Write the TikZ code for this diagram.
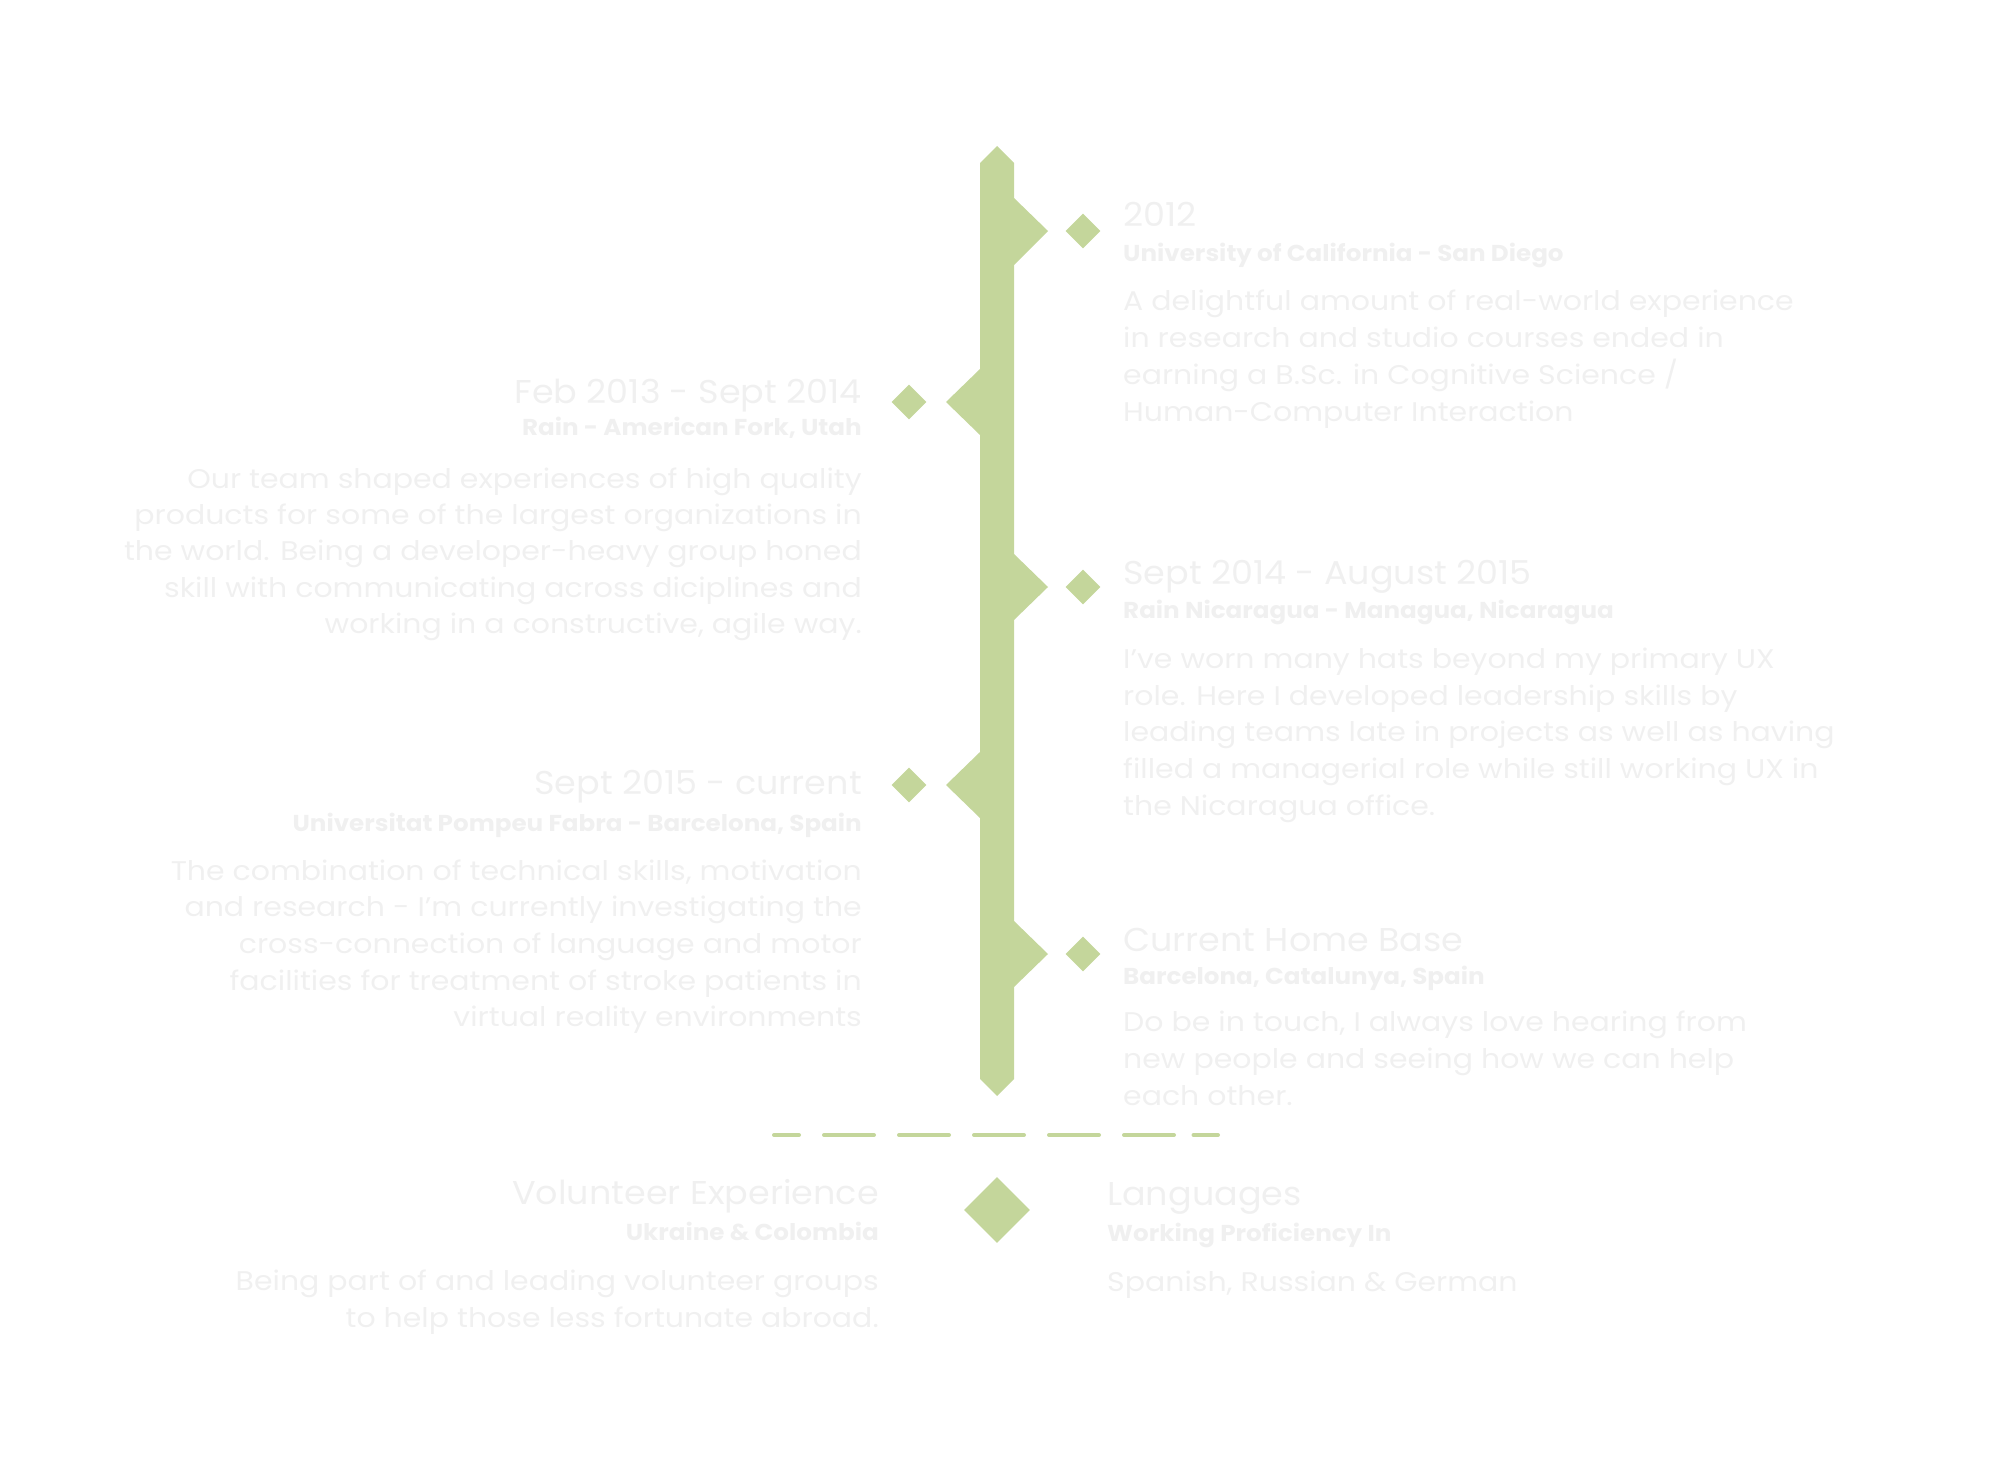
\documentclass[tikz,border=0pt]{standalone}
\usepackage{fontspec}
\setmainfont{Poppins}
\newfontfamily\ttlfont{Poppins}[FakeStretch=1.06]
\newfontfamily\subfont{Poppins}[FakeStretch=1.07]
\newfontfamily\bodyfont{Poppins}[FakeStretch=1.11]
\usetikzlibrary{shapes.geometric}
\definecolor{tlgreen}{RGB}{196,214,155}
\definecolor{tltext}{RGB}{240,240,240}
\tikzset{
  ttl/.style={font=\ttlfont\fontsize{33}{40}\selectfont, text=tltext, inner sep=0pt},
  subttl/.style={font=\subfont\fontsize{23}{30}\selectfont\bfseries, text=tltext, inner sep=0pt},
  bodytxt/.style={font=\bodyfont\fontsize{27}{36}\selectfont, text=tltext, inner sep=0pt},
  gem/.style={diamond, fill=tlgreen, inner sep=0pt, minimum size=35pt},
  bigem/.style={diamond, fill=tlgreen, inner sep=0pt, minimum size=66pt},
  sep/.style={draw=tlgreen, line width=4pt, line cap=round,
    dash pattern=on 25pt off 25pt on 50pt off 25pt on 50pt off 25pt on 50pt off 25pt on 50pt off 25pt on 50pt off 19.5pt on 50pt off 100pt}
}
\begin{document}
\begin{tikzpicture}[x=1pt,y=-1pt]
\useasboundingbox (0,0) rectangle (2000,1458);
% timeline bar
\fill[tlgreen] (997,146) -- (1014,163) -- (1014,198) -- (1048,231) -- (1014,265)
  -- (1014,554) -- (1048,587) -- (1014,620) -- (1014,921) -- (1048,954) -- (1014,987)
  -- (1014,1079) -- (997,1096) -- (980,1079) -- (980,818) -- (946,785) -- (980,752)
  -- (980,435) -- (946,402) -- (980,369) -- (980,163) -- cycle;
% small diamonds
\node[gem] (g1) at (1083,231) {};
\node[gem] (g2) at (909,402) {};
\node[gem] (g3) at (1083,587) {};
\node[gem] (g4) at (909,785) {};
\node[gem] (g5) at (1083,954) {};
% separator
\coordinate (sl) at (774,1135);
\coordinate (sr) at (1218,1135);
\draw[sep] (sl) -- (sr);
\node[bigem] (gb) at (997,1210) {};

% block 1
\node[ttl, anchor=base west] (t1) at (1123,227) {2012};
\node[subttl, anchor=base west] (s1) at (1123,261.7) {University of California - San Diego};
\foreach \t [count=\i] in {A delightful amount of real-world experience,
  in research and studio courses ended in,
  earning a B.Sc. in Cognitive Science /,
  Human-Computer Interaction}
  \node[bodytxt, anchor=base west] (b1-\i) at (1123,{310.7+37*(\i-1)}) {\t};

% block 2
\node[ttl, anchor=base east] (t2) at (862,403.3) {Feb 2013 - Sept 2014};
\node[subttl, anchor=base east] (s2) at (862,435.7) {Rain - American Fork, Utah};
\foreach \t [count=\i] in {Our team shaped experiences of high quality,
  products for some of the largest organizations in,
  the world. Being a developer-heavy group honed,
  skill with communicating across diciplines and,
  {working in a constructive, agile way.}}
  \node[bodytxt, anchor=base east] (b2-\i) at (862,{488.3+36.3*(\i-1)}) {\t};

% block 3
\node[ttl, anchor=base west] (t3) at (1123,584.3) {Sept 2014 - August 2015};
\node[subttl, anchor=base west] (s3) at (1123,618.3) {Rain Nicaragua - Managua, Nicaragua};
\foreach \t [count=\i] in {I’ve worn many hats beyond my primary UX,
  role. Here I developed leadership skills by,
  leading teams late in projects as well as having,
  filled a managerial role while still working UX in,
  the Nicaragua office.}
  \node[bodytxt, anchor=base west] (b3-\i) at (1123,{668.3+36.7*(\i-1)}) {\t};

% block 4
\node[ttl, anchor=base east] (t4) at (862,794.3) {Sept 2015 - current};
\node[subttl, anchor=base east] (s4) at (862,831.7) {Universitat Pompeu Fabra - Barcelona, Spain};
\foreach \t [count=\i] in {{The combination of technical skills, motivation},
  and research - I’m currently investigating the,
  cross-connection of language and motor,
  facilities for treatment of stroke patients in,
  virtual reality environments}
  \node[bodytxt, anchor=base east] (b4-\i) at (862,{880+36.7*(\i-1)}) {\t};

% block 5
\node[ttl, anchor=base west] (t5) at (1123,951) {Current Home Base};
\node[subttl, anchor=base west] (s5) at (1123,984) {Barcelona, Catalunya, Spain};
\foreach \t [count=\i] in {{Do be in touch, I always love hearing from},
  new people and seeing how we can help,
  each other.}
  \node[bodytxt, anchor=base west] (b5-\i) at (1123,{1031.7+36.7*(\i-1)}) {\t};

% volunteer
\node[ttl, anchor=base east] (t6) at (879,1204) {Volunteer Experience};
\node[subttl, anchor=base east] (s6) at (879,1240) {Ukraine \& Colombia};
\node[bodytxt, anchor=base east] (b6-1) at (879,1290) {Being part of and leading volunteer groups};
\node[bodytxt, anchor=base east] (b6-2) at (879,1327) {to help those less fortunate abroad.};

% languages
\node[ttl, anchor=base west] (t7) at (1107,1205) {Languages};
\node[subttl, anchor=base west] (s7) at (1107,1241) {Working Proficiency In};
\node[bodytxt, anchor=base west] (b7-1) at (1107,1291) {Spanish, Russian \& German};
\end{tikzpicture}
\end{document}
